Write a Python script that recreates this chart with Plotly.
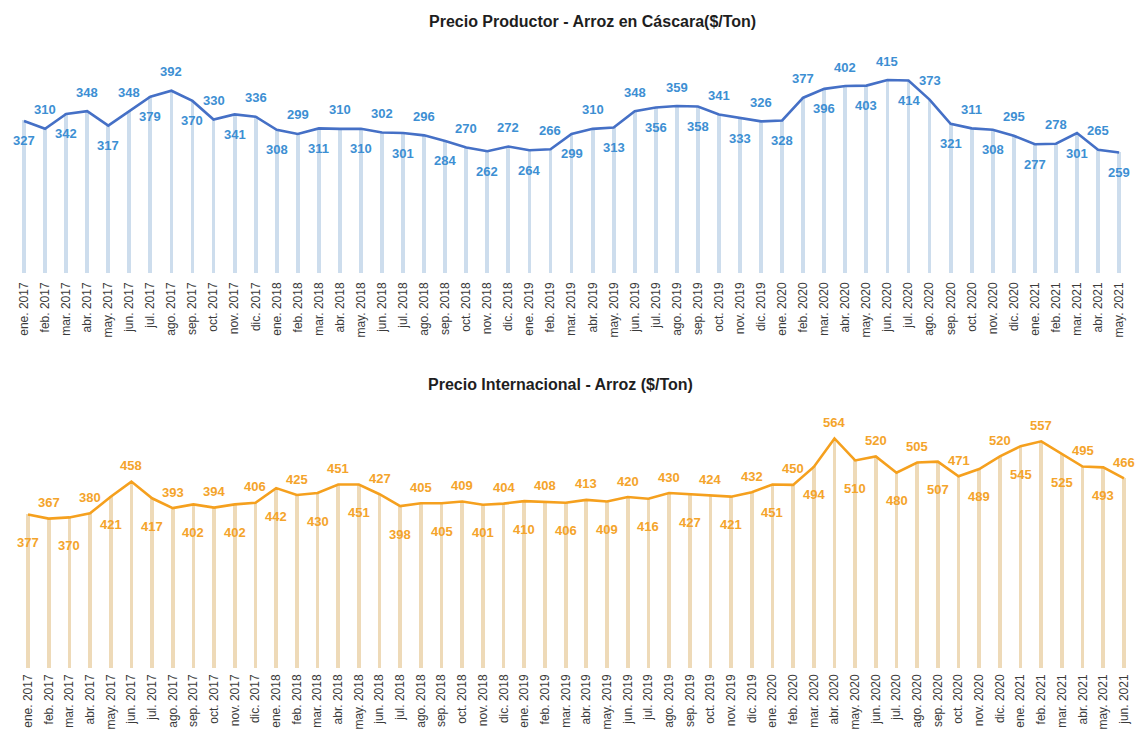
import plotly.graph_objects as go

meses = ["ene.", "feb.", "mar.", "abr.", "may.", "jun.", "jul.", "ago.", "sep.", "oct.", "nov.", "dic."]
cats_prod = [f"{m} {y}" for y in range(2017, 2022) for m in meses][:53]
cats_int = [f"{m} {y}" for y in range(2017, 2022) for m in meses][:54]

precio_productor = [
    327, 310, 342, 348, 317, 348, 379, 392, 370, 330, 341, 336,
    308, 299, 311, 310, 310, 302, 301, 296, 284, 270, 262, 272,
    264, 266, 299, 310, 313, 348, 356, 359, 358, 341, 333, 326,
    328, 377, 396, 402, 403, 415, 414, 373, 321, 311, 308, 295,
    277, 278, 301, 265, 259,
]
precio_internacional = [
    377, 367, 370, 380, 421, 458, 417, 393, 402, 394, 402, 406,
    442, 425, 430, 451, 451, 427, 398, 405, 405, 409, 401, 404,
    410, 408, 406, 413, 409, 420, 416, 430, 427, 424, 421, 432,
    451, 450, 494, 564, 510, 520, 480, 505, 507, 471, 489, 520,
    545, 557, 525, 495, 493, 466,
]

FONT = "Arial, Liberation Sans, sans-serif"
BLUE_LINE = "#4570c6"
BLUE_TXT = "#3d8fd3"
BLUE_BAR = "#cddded"
OR_LINE = "#f5a01e"
OR_TXT = "#f4a42b"
OR_BAR = "#eedab8"

fig = go.Figure()

# top chart
fig.add_trace(go.Bar(x=cats_prod, y=precio_productor, width=0.18, marker_color=BLUE_BAR,
                     marker_line_width=0, xaxis="x", yaxis="y", hoverinfo="skip"))
fig.add_trace(go.Scatter(x=cats_prod, y=precio_productor, mode="lines",
                         line=dict(color=BLUE_LINE, width=2.6), xaxis="x", yaxis="y"))
# bottom chart
fig.add_trace(go.Bar(x=cats_int, y=precio_internacional, width=0.18, marker_color=OR_BAR,
                     marker_line_width=0, xaxis="x2", yaxis="y2", hoverinfo="skip"))
fig.add_trace(go.Scatter(x=cats_int, y=precio_internacional, mode="lines",
                         line=dict(color=OR_LINE, width=2.6), xaxis="x2", yaxis="y2"))

annotations = []
for i, (c, v) in enumerate(zip(cats_prod, precio_productor)):
    annotations.append(dict(x=c, y=v, xref="x", yref="y", text=str(v), showarrow=False,
                            yanchor="middle", yshift=(-20 if i % 2 == 0 else 19),
                            font=dict(family=FONT, size=13, color=BLUE_TXT, weight="bold")))
for i, (c, v) in enumerate(zip(cats_int, precio_internacional)):
    annotations.append(dict(x=c, y=v, xref="x2", yref="y2", text=str(v), showarrow=False,
                            yanchor="middle", yshift=(-28 if i % 2 == 0 else 16),
                            font=dict(family=FONT, size=13, color=OR_TXT, weight="bold")))

H_PLOT = 668.0
W = 1137.0
annotations.append(dict(x=592 / W, y=(H_PLOT - 22) / H_PLOT, xref="paper", yref="paper",
                        xanchor="center", yanchor="middle",
                        text="<b>Precio Productor - Arroz en Cáscara($/Ton)</b>",
                        showarrow=False, font=dict(family=FONT, size=16, color="#1e1e1e")))
annotations.append(dict(x=560 / W, y=(H_PLOT - 384) / H_PLOT, xref="paper", yref="paper",
                        xanchor="center", yanchor="middle",
                        text="<b>Precio Internacional - Arroz ($/Ton)</b>",
                        showarrow=False, font=dict(family=FONT, size=16, color="#1e1e1e")))

axis_common = dict(showgrid=False, zeroline=False, showline=False, ticks="",
                   tickangle=-90, tickfont=dict(family=FONT, size=12, color="#3a3a3a"),
                   type="category")
fig.update_layout(
    width=1137, height=740,
    margin=dict(l=0, r=0, t=0, b=72),
    paper_bgcolor="white", plot_bgcolor="white",
    showlegend=False,
    annotations=annotations,
    xaxis=dict(axis_common, domain=[0, 1], anchor="y", range=[-1.14, 52.85],
               ticklabelstandoff=6),
    yaxis=dict(domain=[0.5913, 0.9394], range=[0, 500], visible=False, anchor="x"),
    xaxis2=dict(axis_common, domain=[0, 1], anchor="y2", range=[-1.354, 53.63],
                ticklabelstandoff=3),
    yaxis2=dict(domain=[0.0, 0.396], range=[0, 650], visible=False, anchor="x2"),
    bargap=0,
)

fig.write_html("out.html", config={"displayModeBar": False},
               post_script="document.body.style.margin='0';")
